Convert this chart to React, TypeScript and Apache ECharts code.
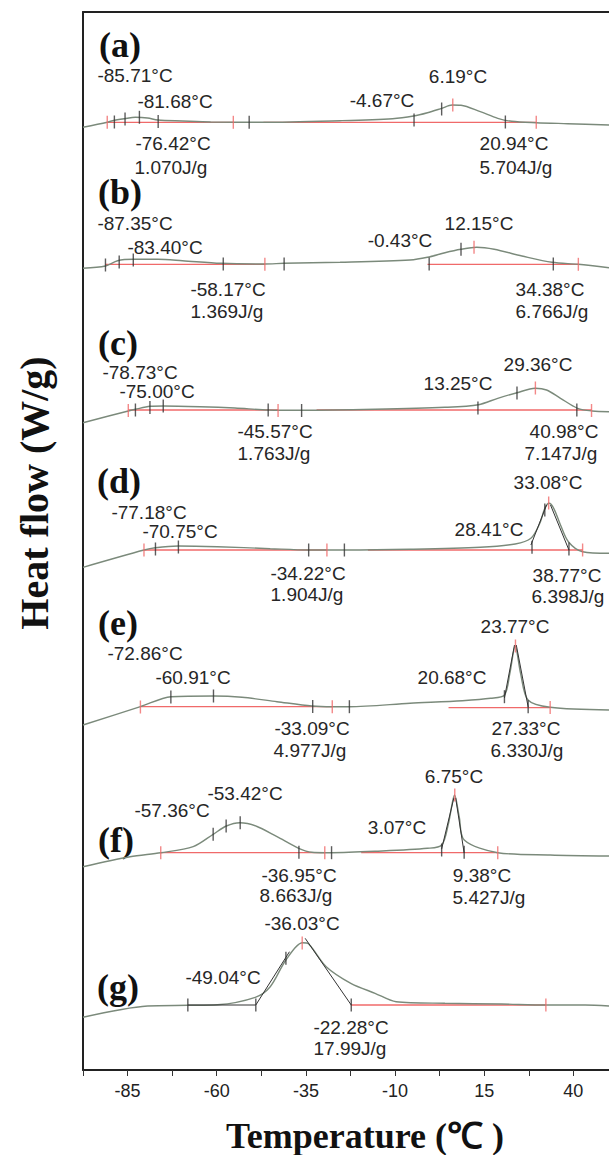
import React, { useEffect, useRef } from 'react';
import * as echarts from 'echarts';

// ---------- axis ----------
const xLabelValues = [-85, -60, -35, -10, 15, 40];
const xTickValues = [-97.5, -85, -72.5, -60, -47.5, -35, -22.5, -10, 2.5, 15, 27.5, 40];

// ---------- DSC curves: [temperature °C, heat flow (offset, a.u.)] ----------
const curveA = [[-97.5, 942.7], [-90.7, 947.7], [-89.2, 949.3], [-85.8, 951.3], [-82.8, 952.7], [-79.4, 952], [-76.5, 950], [-69.6, 949], [-61.7, 948], [-47, 947.7], [-25.4, 949.3], [-10.7, 951.3], [-4.8, 954], [-0.9, 957.3], [3.1, 961.7], [6.0, 965], [8.5, 964.7], [13.9, 958.3], [18.8, 951.7], [22.7, 948.7], [29.6, 947.3], [38.4, 946.3], [50, 945]];
const curveB = [[-97.5, 801.7], [-91.2, 804], [-87.8, 809.3], [-83.4, 810.7], [-76.5, 810.7], [-69.6, 809.3], [-58.8, 806.7], [-46.5, 806], [-41.1, 806.7], [-25.4, 807.7], [-5.8, 810], [-0.9, 812.7], [4.0, 817.3], [8.5, 820.7], [12.9, 822.7], [17.8, 820.7], [25.6, 814], [34.0, 807.7], [41.4, 805.7], [50, 802.3]];
const curveC = [[-97.5, 647.3], [-84.8, 659], [-82.8, 660.7], [-78.7, 663.7], [-75, 664], [-64.7, 663.3], [-54.9, 662], [-45.5, 660], [-36.2, 659.7], [-15.6, 660.7], [4.0, 662.7], [13.4, 665.3], [18.8, 671.7], [24.2, 677.3], [29.3, 681.7], [32.5, 680], [36.4, 671.7], [41.2, 661.7], [45.3, 659], [50, 658.3]];
const curveD = [[-97.5, 502.7], [-80.4, 520], [-77.2, 522.3], [-70.8, 524], [-59.8, 523.3], [-45.0, 521.3], [-34.2, 520], [-24.2, 520], [-5.8, 520.7], [13.9, 522.7], [23.7, 526], [28.1, 531.7], [30.6, 546.7], [32.0, 561.7], [33.2, 566.7], [34.5, 561.7], [36.4, 545], [38.6, 528.3], [42.6, 518.3], [50, 516.7]];
const curveE = [[-97.5, 345], [-81.4, 363.3], [-72.8, 373.3], [-60.8, 374], [-52.9, 372.7], [-43.1, 368.3], [-33.3, 364], [-27.6, 363.3], [-22.8, 363.3], [-5.8, 366.7], [8.9, 369.3], [16.8, 371.7], [20.7, 375], [22.2, 396.7], [23.7, 424], [25.2, 396.7], [27.3, 370], [33.5, 362.7], [50, 360]];
const curveF = [[-97.5, 203.3], [-84.3, 213.3], [-75.7, 217.3], [-66.6, 223.3], [-61.0, 235.7], [-57.3, 244], [-53.5, 247.3], [-49.0, 244], [-43.1, 233.3], [-37.0, 221.7], [-33.3, 217.7], [-29.7, 217.3], [-27.8, 217.3], [-15.6, 218.7], [-0.9, 221.7], [3.1, 225], [5.0, 246.7], [6.7, 275], [8.0, 253.3], [9.4, 230], [18.8, 217.3], [33.5, 215], [50, 214]];
const curveG = [[-97.5, 52.7], [-79.4, 64], [-68.1, 64.7], [-59.8, 65.3], [-49.2, 72.7], [-45.0, 83.3], [-40.6, 110], [-36.0, 127.3], [-34.2, 126], [-29.3, 103.3], [-22.4, 86.7], [-15.6, 76.7], [-9.7, 68.3], [4.0, 66.7], [19.8, 66], [32.3, 65], [43.3, 65], [50, 64]];
const curves = [curveA, curveB, curveC, curveD, curveE, curveF, curveG];

// ---------- integration baselines (red) ----------
const baselines = [
  [[-90.7, 947.7], [-55.35, 947.7]], [[-46.9, 947.7], [29.6, 947.7]],
  [[-91.2, 805.7], [-46.5, 805.7]], [[-0.9, 805.7], [41.4, 805.7]],
  [[-84.8, 660], [-42.8, 660]], [[-32, 660], [45.1, 660]],
  [[-80.4, 520], [-29.1, 520]], [[-17.6, 520], [42.6, 520]],
  [[-81.4, 363.3], [-27.6, 363.3]], [[5, 362.3], [33.5, 362.3]],
  [[-75.7, 217.3], [-29.7, 217.3]], [[-19.5, 217.3], [18.8, 217.3]],
  [[-22.4, 65], [32.3, 65]],
];

// ---------- tangent / construction lines (dark) ----------
const tangents = [
  [[28.1, 525], [32.5, 565]], [[33.6, 565], [38.77, 520]],
  [[20.68, 372], [23.5, 425]], [[24.0, 425], [27.33, 363]],
  [[3.07, 221], [6.5, 272]], [[7.0, 272], [9.38, 217]],
  [[-68.1, 65], [-49.04, 65]], [[-49.04, 65], [-39.6, 118.3]], [[-35.2, 131.7], [-22.28, 65]],
];

// ---------- event markers ----------
const redMarks = [
  [-90.7, 947.7], [-55.35, 947.7], [6.19, 965], [29.6, 947.7],
  [-46.5, 805.7], [12.15, 822.7], [41.4, 805.7],
  [-84.8, 659.5], [-42.8, 659.5], [29.36, 682], [45.1, 659.5],
  [-80.4, 520], [-29.1, 520], [33.08, 567], [42.6, 520],
  [-81.4, 363], [-27.6, 363.3], [23.77, 424], [33.5, 362.5],
  [-75.7, 217.3], [-29.7, 217.3], [6.75, 275], [18.8, 217.3],
  [-36.03, 127], [32.3, 65],
];
const blackMarks = [
  [-88.7, 948], [-85.71, 951], [-81.68, 952.7], [-76.42, 948.5], [-50.9, 947.7], [-4.67, 950], [3.07, 961], [20.94, 948],
  [-91.2, 805], [-87.35, 808], [-83.40, 810], [-58.17, 806], [-41.1, 806], [-0.43, 806], [8.5, 820.7], [34.38, 806],
  [-82.8, 660], [-78.73, 662.5], [-75.0, 664], [-45.57, 660], [-36.2, 659.5], [13.25, 662], [24.2, 677], [40.98, 660],
  [-77.18, 521], [-70.75, 523], [-34.22, 520], [-24.2, 520], [28.41, 522.7], [32.0, 560], [38.77, 521],
  [-72.86, 373], [-60.91, 374], [-33.09, 363.5], [-22.8, 363.3], [20.68, 373.3], [27.33, 363.3],
  [-61.0, 235.7], [-57.36, 244], [-53.42, 247.3], [-36.95, 217.7], [-27.8, 217.3], [3.07, 220], [9.38, 217.7],
  [-68.1, 65], [-49.04, 65], [-40.6, 111.7], [-22.28, 65],
];

// ---------- annotation texts (text, pixel x, pixel y) ----------
const annotations: [string, number, number][] = [
  ['-85.71°C', 135, 75], ['-81.68°C', 175, 101], ['-4.67°C', 382, 100], ['6.19°C', 458, 76],
  ['-76.42°C', 173, 143], ['1.070J/g', 171, 167], ['20.94°C', 514, 143], ['5.704J/g', 516, 167],
  ['-87.35°C', 135, 223], ['-83.40°C', 165, 247], ['-0.43°C', 400, 240], ['12.15°C', 479, 223],
  ['-58.17°C', 228, 289], ['1.369J/g', 227, 311], ['34.38°C', 550, 289], ['6.766J/g', 552, 311],
  ['-78.73°C', 140, 372], ['-75.00°C', 157, 391], ['13.25°C', 458, 383], ['29.36°C', 538, 364],
  ['-45.57°C', 275, 431], ['1.763J/g', 274, 453], ['40.98°C', 564, 431], ['7.147J/g', 561, 453],
  ['33.08°C', 548, 482], ['-77.18°C', 149, 512], ['-70.75°C', 180, 531], ['28.41°C', 489, 529],
  ['-34.22°C', 308, 573], ['1.904J/g', 307, 594], ['38.77°C', 567, 575], ['6.398J/g', 568, 596],
  ['23.77°C', 515, 626], ['-72.86°C', 145, 653], ['-60.91°C', 193, 677], ['20.68°C', 452, 677],
  ['-33.09°C', 312, 728], ['4.977J/g', 310, 750], ['27.33°C', 526, 728], ['6.330J/g', 527, 750],
  ['6.75°C', 454, 776], ['-53.42°C', 245, 793], ['-57.36°C', 172, 810], ['3.07°C', 397, 827],
  ['-36.95°C', 299, 875], ['8.663J/g', 296, 895], ['9.38°C', 482, 875], ['5.427J/g', 489, 897],
  ['-36.03°C', 302, 923], ['-49.04°C', 223, 977], ['-22.28°C', 351, 1027], ['17.99J/g', 350, 1048],
];
const panelLabels: [string, number, number][] = [
  ['(a)', 120, 45], ['(b)', 120, 192], ['(c)', 118, 343], ['(d)', 119, 481],
  ['(e)', 118, 623], ['(f)', 116, 840], ['(g)', 118, 987],
];

const CURVE = '#7b8a7b';
const RED = '#f06a6a';
const INK = '#222';
const SANS = '"Liberation Sans", Arial, sans-serif';
const SERIF = '"Liberation Serif", "Times New Roman", serif';

export default function App() {
  const ref = useRef<HTMLDivElement>(null);
  useEffect(() => {
    if (!ref.current) return;
    const chart = echarts.init(ref.current, null, { renderer: 'svg' });
    const series: any[] = [];
    curves.forEach((c) => series.push({
      type: 'line', data: c, smooth: 0.3, symbol: 'none', silent: true, z: 3,
      lineStyle: { color: CURVE, width: 1.4 },
    }));
    baselines.forEach((b) => series.push({
      type: 'line', data: b, symbol: 'none', silent: true, z: 2,
      lineStyle: { color: RED, width: 1.3 },
    }));
    tangents.forEach((t) => series.push({
      type: 'line', data: t, symbol: 'none', silent: true, z: 4,
      lineStyle: { color: '#333', width: 1 },
    }));
    series.push({
      type: 'scatter', data: redMarks, symbol: 'rect', symbolSize: [1.4, 13], silent: true, z: 5,
      itemStyle: { color: RED },
    });
    series.push({
      type: 'scatter', data: blackMarks, symbol: 'rect', symbolSize: [1.4, 13], silent: true, z: 5,
      itemStyle: { color: '#333' },
    });

    const graphics: any[] = [];
    annotations.forEach(([t, x, y]) => graphics.push({
      type: 'text', x, y, silent: true,
      style: { text: t, font: `19px ${SANS}`, fill: '#262626', textAlign: 'center', textVerticalAlign: 'middle', align: 'center', verticalAlign: 'middle' },
    }));
    panelLabels.forEach(([t, x, y]) => graphics.push({
      type: 'text', x, y, silent: true,
      style: { text: t, font: `bold 36px ${SERIF}`, fill: '#111', textAlign: 'center', textVerticalAlign: 'middle', align: 'center', verticalAlign: 'middle' },
    }));
    graphics.push({
      type: 'text', x: 365, y: 1136, silent: true,
      style: { text: 'Temperature (℃ )', font: `bold 36px ${SERIF}`, fill: '#111', textAlign: 'center', textVerticalAlign: 'middle', align: 'center', verticalAlign: 'middle' },
    });
    graphics.push({
      type: 'text', x: 34, y: 493, rotation: Math.PI / 2, silent: true,
      style: { text: 'Heat flow (W/g)', font: `bold 40px ${SERIF}`, fill: '#111', textAlign: 'center', textVerticalAlign: 'middle', align: 'center', verticalAlign: 'middle' },
    });

    chart.setOption({
      animation: false,
      backgroundColor: '#fff',
      grid: { left: 83, top: 12, width: 526, height: 1058 },
      xAxis: [
        {
          type: 'value', min: -97.5, max: 50, position: 'bottom',
          axisLine: { show: true, onZero: false, lineStyle: { color: INK, width: 2 } },
          axisTick: { show: true, length: 6, lineStyle: { color: '#333', width: 1 }, customValues: xTickValues },
          axisLabel: { show: true, customValues: xLabelValues, color: '#222', fontSize: 18, fontFamily: SANS, margin: 12 },
          splitLine: { show: false },
        },
        {
          type: 'value', min: -97.5, max: 50, position: 'top',
          axisLine: { show: true, onZero: false, lineStyle: { color: INK, width: 2 } },
          axisTick: { show: false }, axisLabel: { show: false }, splitLine: { show: false },
        },
      ],
      yAxis: {
        type: 'value', min: 0, max: 1058, position: 'left',
        axisLine: { show: true, onZero: false, lineStyle: { color: INK, width: 2 } },
        axisTick: { show: false }, axisLabel: { show: false }, splitLine: { show: false },
      },
      series,
      graphic: graphics,
    });
    return () => chart.dispose();
  }, []);
  return <div ref={ref} style={{ position: 'absolute', left: 0, top: 0, width: 609, height: 1155, background: '#fff' }} />;
}
